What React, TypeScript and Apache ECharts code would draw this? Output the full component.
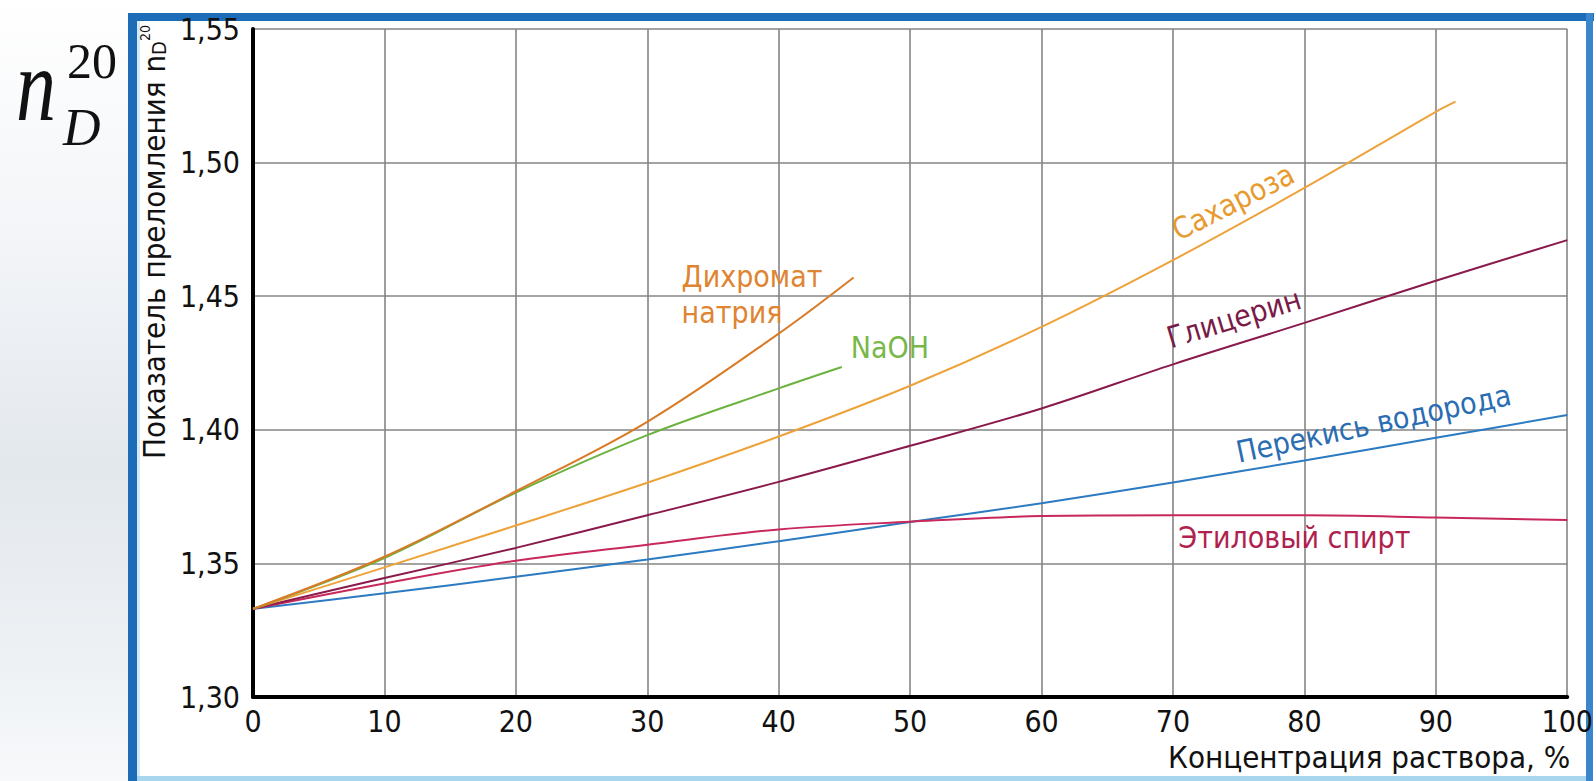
import React, { useEffect, useRef } from "react";
import * as echarts from "echarts";

// Concentration (%) and refractive index n_D^20
const dichromateX = [0, 10, 20, 30, 40, 45.7];
const dichromateN = [1.333, 1.3525, 1.377, 1.403, 1.436, 1.457];

const naohX = [0, 10, 20, 30, 40, 44.8];
const naohN = [1.333, 1.352, 1.3765, 1.398, 1.4155, 1.4235];

const sucroseX = [0, 10, 20, 30, 40, 50, 60, 70, 80, 90, 91.5];
const sucroseN = [1.333, 1.3485, 1.3642, 1.3802, 1.3975, 1.4165, 1.4385, 1.4635, 1.4905, 1.519, 1.5228];

const glycerolX = [0, 10, 20, 30, 40, 50, 60, 70, 80, 90, 100];
const glycerolN = [1.333, 1.3445, 1.3558, 1.368, 1.3805, 1.394, 1.408, 1.4245, 1.44, 1.4558, 1.471];

const peroxideX = [0, 10, 20, 30, 40, 50, 60, 70, 80, 90, 100];
const peroxideN = [1.333, 1.3388, 1.345, 1.3515, 1.3583, 1.3655, 1.3725, 1.3803, 1.3885, 1.397, 1.4055];

const ethanolX = [0, 10, 20, 30, 40, 50, 60, 70, 80, 90, 100];
const ethanolN = [1.333, 1.3425, 1.351, 1.357, 1.3627, 1.3656, 1.3677, 1.368, 1.368, 1.3672, 1.3662];

const seriesNames = ["Дихромат натрия", "NaOH", "Сахароза", "Глицерин", "Перекись водорода", "Этиловый спирт"];
const xAxisTitle = "Концентрация раствора, %";
const yAxisTitle = "Показатель преломления n";

const FONT =
  "'Liberation Sans Narrow', 'Arial Narrow', 'DejaVu Sans Condensed', 'Liberation Sans', Arial, sans-serif";
const SERIF = "'Liberation Serif', 'DejaVu Serif', serif";

function toData(xs: number[], ys: number[], labelIndex: number, label: any) {
  return xs.map((x, i) => (i === labelIndex ? { value: [x, ys[i]], label } : [x, ys[i]]));
}

function lineSeries(name: string, data: any[], color: string, z: number) {
  return {
    type: "line",
    name,
    data,
    smooth: 0.35,
    symbol: "circle",
    symbolSize: 0,
    showSymbol: true,
    silent: true,
    z,
    lineStyle: { color, width: 2 },
    itemStyle: { color },
    label: { show: false },
    emphasis: { disabled: true },
  };
}

function labelStyle(text: string, color: string, extra: any) {
  return {
    show: true,
    formatter: text,
    color,
    fontFamily: FONT,
    fontSize: 30,
    position: "inside",
    align: "center",
    verticalAlign: "middle",
    ...extra,
  };
}

export default function App() {
  const ref = useRef<HTMLDivElement>(null);

  useEffect(() => {
    document.body.style.margin = "0";
    const chart = echarts.init(ref.current!, null, { renderer: "svg" });

    const option: any = {
      animation: false,
      backgroundColor: "#ffffff",
      grid: { left: 253, right: 26, top: 29, bottom: 84, containLabel: false },
      xAxis: {
        type: "value",
        min: 0,
        max: 100,
        interval: 10,
        name: xAxisTitle,
        nameLocation: "end",
        nameGap: 3,
        nameTextStyle: {
          fontFamily: FONT,
          fontSize: 31,
          color: "#111",
          align: "right",
          verticalAlign: "top",
          padding: [44, 0, 0, 0],
        },
        axisLine: { show: true, onZero: false, lineStyle: { color: "#000", width: 4 } },
        axisTick: { show: false },
        axisLabel: { fontFamily: FONT, fontSize: 30, color: "#111", margin: 9 },
        splitLine: { show: true, lineStyle: { color: "#858585", width: 1.6 } },
      },
      yAxis: {
        type: "value",
        min: 1.3,
        max: 1.55,
        interval: 0.05,
        name: yAxisTitle + "{s|D}{p|20}",
        nameLocation: "end",
        nameRotate: 90,
        nameGap: 4,
        nameTextStyle: {
          fontFamily: FONT,
          fontSize: 31,
          color: "#111",
          align: "right",
          verticalAlign: "bottom",
          padding: [0, 0, 84, 0],
          rich: {
            s: { fontFamily: FONT, fontSize: 20, color: "#111", verticalAlign: "bottom" },
            p: { fontFamily: FONT, fontSize: 14, color: "#111", verticalAlign: "top" },
          },
        },
        axisLine: { show: true, onZero: false, lineStyle: { color: "#000", width: 4 } },
        axisTick: { show: false },
        axisLabel: {
          fontFamily: FONT,
          fontSize: 30,
          color: "#111",
          margin: 13,
          formatter: (v: number) => v.toFixed(2).replace(".", ","),
        },
        splitLine: { show: true, lineStyle: { color: "#858585", width: 1.6 } },
      },
      series: [
        lineSeries(
          seriesNames[4],
          toData(peroxideX, peroxideN, 9, labelStyle(seriesNames[4], "#2a6db2", { rotate: 12, offset: [-58, -27] })),
          "#2c7bc2",
          2
        ),
        lineSeries(
          seriesNames[5],
          toData(ethanolX, ethanolN, 8, labelStyle("Этиловый спирт", "#b0224e", { offset: [-10, 22] })),
          "#c8285a",
          3
        ),
        lineSeries(
          seriesNames[3],
          toData(glycerolX, glycerolN, 8, labelStyle(seriesNames[3], "#7a1a48", { rotate: 17, offset: [-66, -25] })),
          "#8a1a4c",
          4
        ),
        lineSeries(
          seriesNames[2],
          toData(sucroseX, sucroseN, 8, labelStyle(seriesNames[2], "#e79a2e", { rotate: 27, offset: [-70, -20] })),
          "#eea23a",
          5
        ),
        lineSeries(
          seriesNames[1],
          toData(naohX, naohN, 5, labelStyle(seriesNames[1], "#78b848", { align: "left", offset: [9, -20] })),
          "#6cb23e",
          6
        ),
        lineSeries(
          seriesNames[0],
          toData(
            dichromateX,
            dichromateN,
            5,
            labelStyle("Дихромат\nнатрия", "#df8430", { align: "left", offset: [-172, 17], lineHeight: 36 })
          ),
          "#d97a26",
          7
        ),
      ],
      graphic: [
        {
          type: "rect",
          z: -10,
          silent: true,
          shape: { x: 0, y: 0, width: 128, height: 781 },
          style: {
            fill: new echarts.graphic.LinearGradient(0, 0, 0, 1, [
              { offset: 0, color: "#ffffff" },
              { offset: 0.3, color: "#f3f5f8" },
              { offset: 0.6, color: "#e3e8ed" },
              { offset: 0.85, color: "#eef1f4" },
              { offset: 1, color: "#f7f9fb" },
            ]),
          },
        },
        { type: "rect", silent: true, shape: { x: 128, y: 13, width: 9, height: 768 }, style: { fill: "#1c6cb8" } },
        { type: "rect", silent: true, shape: { x: 137, y: 21, width: 3, height: 760 }, style: { fill: "#d3eaf8" } },
        { type: "rect", silent: true, shape: { x: 128, y: 13, width: 1466, height: 8 }, style: { fill: "#1c6cb8" } },
        { type: "rect", silent: true, shape: { x: 1586, y: 13, width: 7, height: 768 }, style: { fill: "#3a86cc" } },
        { type: "rect", silent: true, shape: { x: 137, y: 776, width: 1449, height: 5 }, style: { fill: "#a8d6ee" } },
        {
          type: "text",
          silent: true,
          x: 16,
          y: 85,
          scaleY: 1.3,
          style: { text: "n", font: `italic 80px ${SERIF}`, fill: "#111", textVerticalAlign: "middle" },
        },
        {
          type: "text",
          silent: true,
          x: 67,
          y: 61,
          style: { text: "20", font: `50px ${SERIF}`, fill: "#111", textVerticalAlign: "middle" },
        },
        {
          type: "text",
          silent: true,
          x: 63,
          y: 127,
          style: { text: "D", font: `italic 52px ${SERIF}`, fill: "#111", textVerticalAlign: "middle" },
        },
      ],
    };

    chart.setOption(option);
    return () => chart.dispose();
  }, []);

  return (
    <div
      ref={ref}
      style={{ position: "absolute", left: 0, top: 0, width: "1596px", height: "781px" }}
    />
  );
}
